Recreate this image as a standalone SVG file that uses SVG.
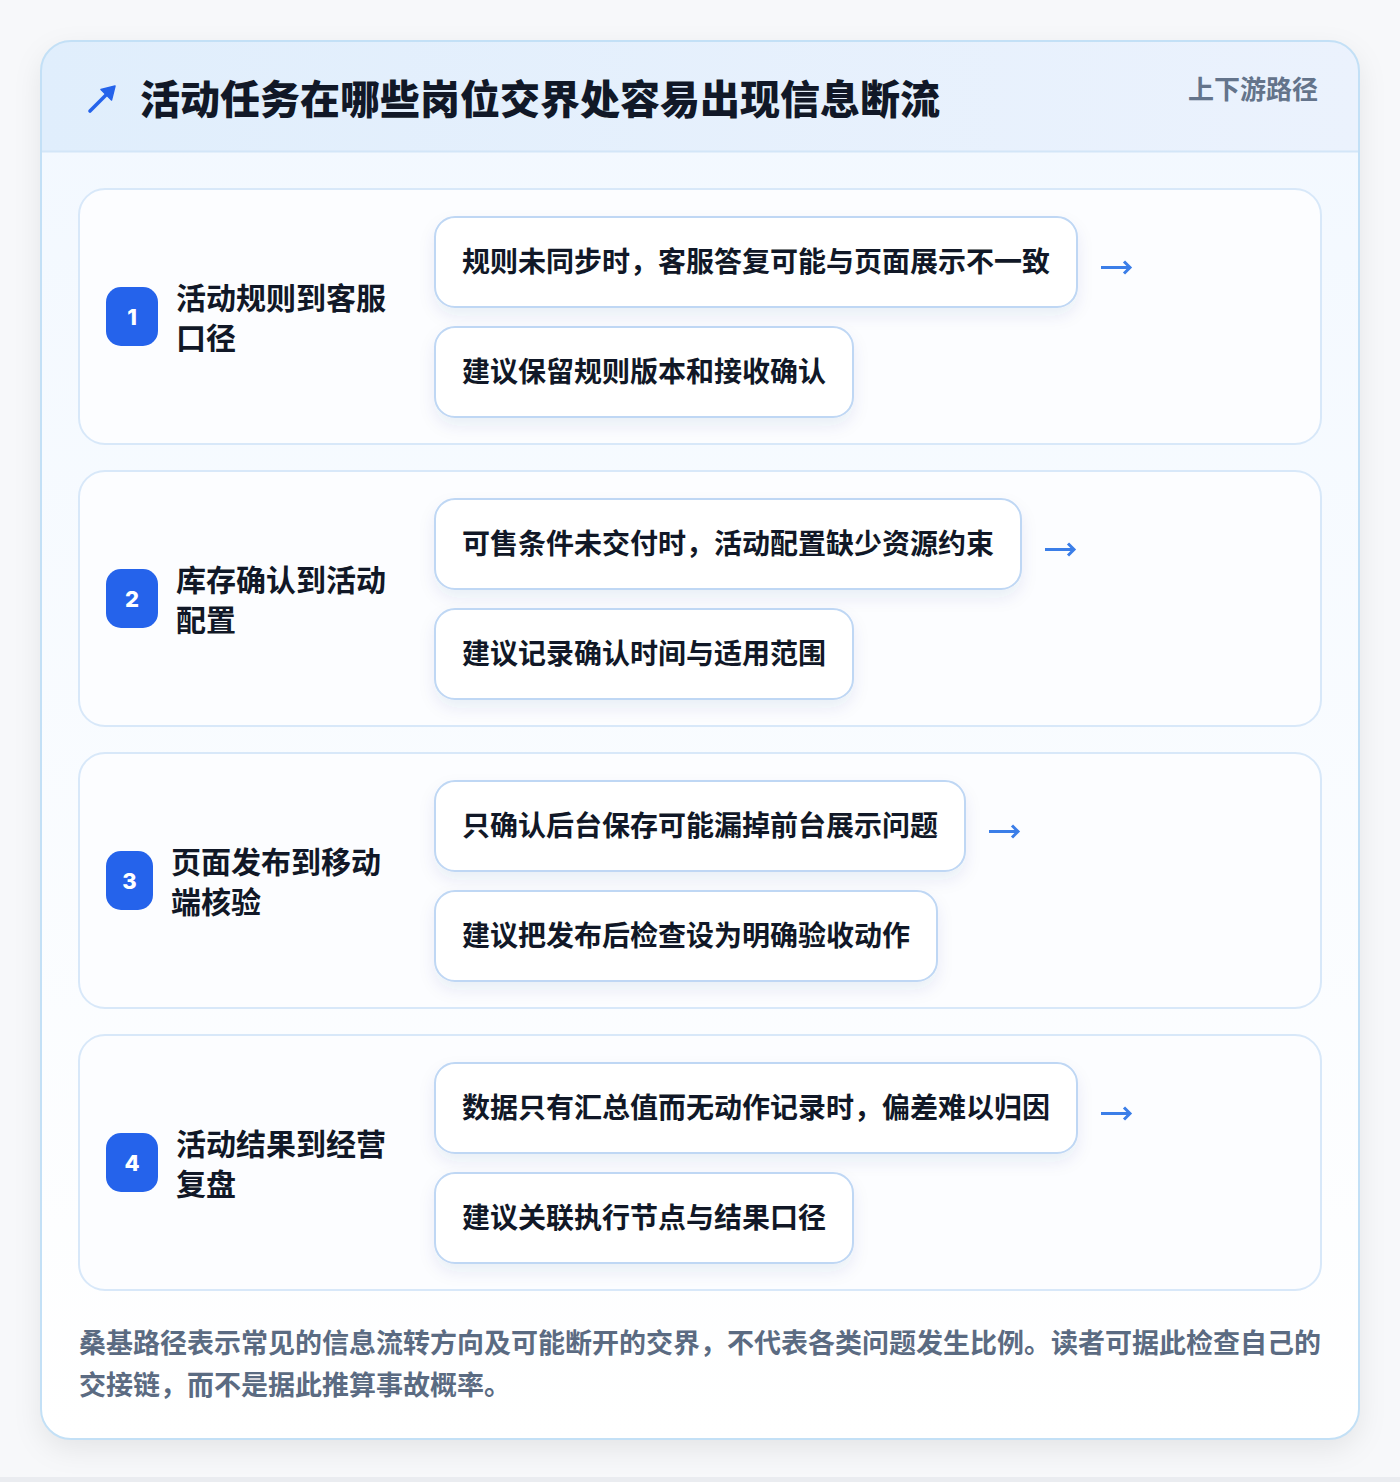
<svg xmlns="http://www.w3.org/2000/svg" width="1400" height="1482" viewBox="0 0 1400 1482">
<defs>
<linearGradient id="hdr" x1="0" y1="0" x2="1" y2="0">
<stop offset="0" stop-color="#e0eefc"/>
<stop offset="1" stop-color="#ebf2fd"/>
</linearGradient>
<linearGradient id="cardbg" x1="0" y1="0" x2="0" y2="1">
<stop offset="0" stop-color="#f2f8ff"/>
<stop offset="1" stop-color="#ffffff"/>
</linearGradient>
<clipPath id="cardclip"><rect x="41" y="41" width="1318" height="1398" rx="30"/></clipPath>
<filter id="cardshadow" x="-10%" y="-10%" width="120%" height="120%">
<feDropShadow dx="0" dy="10" stdDeviation="14" flood-color="#0f172a" flood-opacity="0.08"/>
</filter>
<filter id="pillshadow" x="-10%" y="-30%" width="120%" height="170%">
<feDropShadow dx="0" dy="8" stdDeviation="8" flood-color="#1e3a8a" flood-opacity="0.08"/>
</filter>
<style>
.t{font-family:"Noto Sans CJK SC","Noto Sans",sans-serif;font-weight:700}
.title{font-size:40px;fill:#111827;font-weight:900}
.tag{font-size:26px;fill:#64748b}
.row{fill:#fcfdff;stroke:#d8e8f9;stroke-width:2}
.badge{fill:#2563eb}
.num{font-family:"Inter","Noto Sans",sans-serif;font-weight:800;font-size:22px;fill:#ffffff}
.lbl{font-size:30px;fill:#111827}
.pill{fill:#ffffff;stroke:#bfd7f4;stroke-width:2}
.ptxt{font-size:28px;fill:#111827}
.arrline{stroke:#3b7ee8;stroke-width:3;fill:none;stroke-linecap:butt}
.arrhead{stroke:#3b7ee8;stroke-width:3;fill:none;stroke-linejoin:miter}
.foot{font-size:27px;fill:#5b6b82}
</style>
</defs>
<rect x="0" y="0" width="1400" height="1482" fill="#f7f8fa"/>
<rect x="0" y="1477" width="1400" height="5" fill="#eaecf0"/>
<g id="card">
<rect x="41" y="41" width="1318" height="1398" rx="30" fill="url(#cardbg)" filter="url(#cardshadow)"/>
<g clip-path="url(#cardclip)">
<rect x="41" y="41" width="1318" height="111" fill="url(#hdr)"/>
<line x1="41" y1="151.5" x2="1359" y2="151.5" stroke="#d3e6f8" stroke-width="2"/>
</g>
<rect x="41" y="41" width="1318" height="1398" rx="30" fill="none" stroke="#c3e0f6" stroke-width="2"/>
</g>
<g id="header">
<path d="M90 111 L108 93" stroke="#2563eb" stroke-width="3.6" stroke-linecap="round" fill="none"/>
<path d="M115 86 L101 89.5 L111.5 100 Z" fill="#2563eb" stroke="#2563eb" stroke-width="1.5" stroke-linejoin="round"/>
<text class="t title" x="140" y="114">活动任务在哪些岗位交界处容易出现信息断流</text>
<text class="t tag" x="1318" y="99" text-anchor="end">上下游路径</text>
</g>
<g id="row1">
<rect class="row" x="79" y="189" width="1242" height="255" rx="26"/>
<rect class="badge" x="106" y="287" width="52" height="59" rx="15"/>
<text class="num" x="132" y="325" text-anchor="middle">1</text>
<text class="t lbl" x="176" y="309">活动规则到客服</text>
<text class="t lbl" x="176" y="349">口径</text>
<rect class="pill" x="435" y="217" width="642" height="90" rx="20" filter="url(#pillshadow)"/>
<text class="t ptxt" x="462" y="272">规则未同步时，客服答复可能与页面展示不一致</text>
<rect class="pill" x="435" y="327" width="418" height="90" rx="20" filter="url(#pillshadow)"/>
<text class="t ptxt" x="462" y="382">建议保留规则版本和接收确认</text>
</g>
<g id="row2">
<rect class="row" x="79" y="471" width="1242" height="255" rx="26"/>
<rect class="badge" x="106" y="569" width="52" height="59" rx="15"/>
<text class="num" x="132" y="607" text-anchor="middle">2</text>
<text class="t lbl" x="176" y="591">库存确认到活动</text>
<text class="t lbl" x="176" y="631">配置</text>
<rect class="pill" x="435" y="499" width="586" height="90" rx="20" filter="url(#pillshadow)"/>
<text class="t ptxt" x="462" y="554">可售条件未交付时，活动配置缺少资源约束</text>
<rect class="pill" x="435" y="609" width="418" height="90" rx="20" filter="url(#pillshadow)"/>
<text class="t ptxt" x="462" y="664">建议记录确认时间与适用范围</text>
</g>
<g id="row3">
<rect class="row" x="79" y="753" width="1242" height="255" rx="26"/>
<rect class="badge" x="106" y="851" width="47" height="59" rx="15"/>
<text class="num" x="129.5" y="889" text-anchor="middle">3</text>
<text class="t lbl" x="171" y="873">页面发布到移动</text>
<text class="t lbl" x="171" y="913">端核验</text>
<rect class="pill" x="435" y="781" width="530" height="90" rx="20" filter="url(#pillshadow)"/>
<text class="t ptxt" x="462" y="836">只确认后台保存可能漏掉前台展示问题</text>
<rect class="pill" x="435" y="891" width="502" height="90" rx="20" filter="url(#pillshadow)"/>
<text class="t ptxt" x="462" y="946">建议把发布后检查设为明确验收动作</text>
</g>
<g id="row4">
<rect class="row" x="79" y="1035" width="1242" height="255" rx="26"/>
<rect class="badge" x="106" y="1133" width="52" height="59" rx="15"/>
<text class="num" x="132" y="1171" text-anchor="middle">4</text>
<text class="t lbl" x="176" y="1155">活动结果到经营</text>
<text class="t lbl" x="176" y="1195">复盘</text>
<rect class="pill" x="435" y="1063" width="642" height="90" rx="20" filter="url(#pillshadow)"/>
<text class="t ptxt" x="462" y="1118">数据只有汇总值而无动作记录时，偏差难以归因</text>
<rect class="pill" x="435" y="1173" width="418" height="90" rx="20" filter="url(#pillshadow)"/>
<text class="t ptxt" x="462" y="1228">建议关联执行节点与结果口径</text>
</g>
<g id="connectors">
<path class="arrline" d="M1101 267.5 H1129"/>
<path class="arrhead" d="M1124 261.5 L1130 267.5 L1124 273.5"/>
<path class="arrline" d="M1045 549.5 H1073"/>
<path class="arrhead" d="M1068 543.5 L1074 549.5 L1068 555.5"/>
<path class="arrline" d="M989 831.5 H1017"/>
<path class="arrhead" d="M1012 825.5 L1018 831.5 L1012 837.5"/>
<path class="arrline" d="M1101 1113.5 H1129"/>
<path class="arrhead" d="M1124 1107.5 L1130 1113.5 L1124 1119.5"/>
</g>
<g id="footer">
<text class="t foot" x="79" y="1353">桑基路径表示常见的信息流转方向及可能断开的交界，不代表各类问题发生比例。读者可据此检查自己的</text>
<text class="t foot" x="79" y="1395">交接链，而不是据此推算事故概率。</text>
</g>
</svg>
